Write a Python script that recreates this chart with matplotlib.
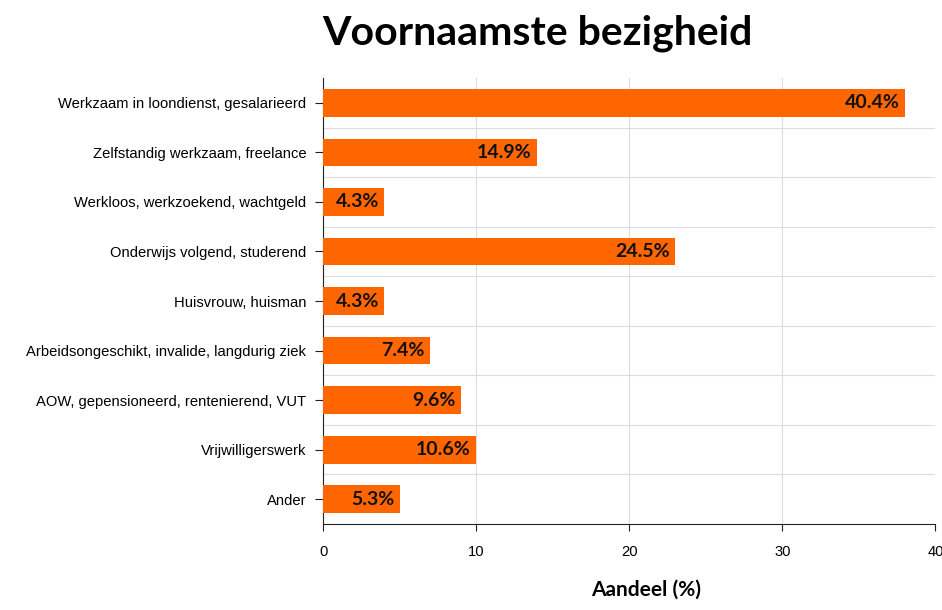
import matplotlib.pyplot as plt

# categories (top to bottom), bar lengths as drawn, and the printed labels
categories = [
    "Werkzaam in loondienst, gesalarieerd",
    "Zelfstandig werkzaam, freelance",
    "Werkloos, werkzoekend, wachtgeld",
    "Onderwijs volgend, studerend",
    "Huisvrouw, huisman",
    "Arbeidsongeschikt, invalide, langdurig ziek",
    "AOW, gepensioneerd, rentenierend, VUT",
    "Vrijwilligerswerk",
    "Ander",
]
values = [38, 14, 4, 23, 4, 7, 9, 10, 5]
value_labels = ["40.4%", "14.9%", "4.3%", "24.5%", "4.3%", "7.4%", "9.6%", "10.6%", "5.3%"]
xticks = [0, 10, 20, 30, 40]

fig = plt.figure(figsize=(9.42, 6.10), dpi=100)
ax = fig.add_axes([0.343, 0.141, 0.650, 0.731])

y = list(range(len(categories)))
ax.barh(y, values, height=0.56, color="#ff6600", zorder=3)

for yi, v, lab in zip(y, values, value_labels):
    ax.annotate(lab, (v, yi), xytext=(-4, 0), textcoords="offset points",
                ha="right", va="center", fontsize=14, fontweight="bold",
                family="Lato", color="#111111", zorder=4)

ax.set_ylim(len(categories) - 0.5, -0.5)
ax.set_xlim(0, 40)
ax.set_yticks(y)
ax.set_yticklabels(categories, family="Liberation Sans", fontsize=10.6)
ax.set_xticks(xticks)
ax.set_xticklabels([str(t) for t in xticks], family="Liberation Sans", fontsize=10.6)

# grid: vertical at ticks, horizontal between categories
for t in xticks[1:-1]:
    ax.axvline(t, color="#dddddd", lw=0.8, zorder=1)
for b in range(1, len(categories)):
    ax.axhline(b - 0.5, color="#dddddd", lw=0.8, zorder=1)

ax.spines["top"].set_visible(False)
ax.spines["right"].set_visible(False)
ax.spines["left"].set_color("#222222")
ax.spines["bottom"].set_color("#222222")
ax.tick_params(axis="both", direction="out", color="#222222")
ax.tick_params(axis="y", length=6, pad=6)
ax.tick_params(axis="x", length=5, pad=10)

ax.set_xlabel("Aandeel (%)", family="Lato", fontweight="bold", fontsize=15)
ax.xaxis.set_label_coords(0.527, -0.125)
fig.text(0.57, 0.946, "Voornaamste bezigheid", ha="center", va="center",
         family="Lato", fontweight="bold", fontsize=29.5)

fig.savefig("out.png", dpi=100)
